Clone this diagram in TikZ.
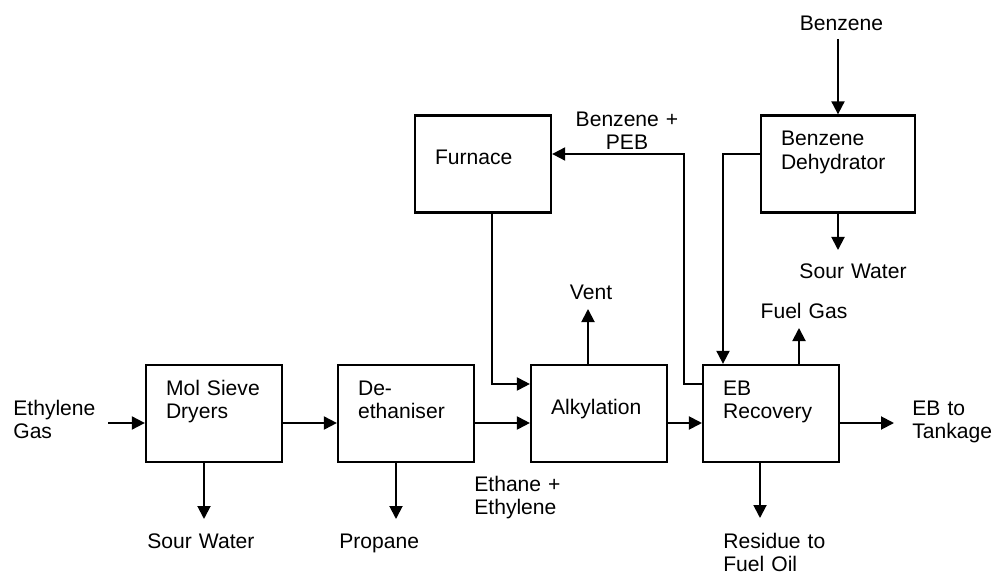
\documentclass[tikz,border=0pt]{standalone}
\usepackage{fontspec}
\setmainfont{Liberation Sans}
\usetikzlibrary{arrows.meta, positioning}

\begin{document}
\begin{tikzpicture}[
    x=0.2mm, y=-0.2mm,
    >={Triangle[length=2.6mm,width=2.6mm]},
    font=\fontsize{12}{13.3}\selectfont,
    proc/.style    = {rectangle, draw=black, line width=1.3pt,
                      minimum width=27.2mm, minimum height=19.4mm,
                      text width=19.2mm, inner xsep=4mm, align=left,
                      text height=2mm, text depth=9.2mm},
    oneline/.style = {text depth=1.6mm},
    stream/.style  = {inner sep=0pt, text width=22mm, align=left,
                      anchor=base west},
    centred/.style = {align=center, anchor=base},
    pipe/.style    = {->, line width=1.1pt},
]
\useasboundingbox (0,0) rectangle (997,574);

\node[proc] (dry) at (214,413.5) {Mol Sieve\\Dryers};
\node[proc, right=10.75mm of dry] (deeth) {De-\\ethaniser};
\node[proc, oneline, right=10.95mm of deeth] (alky) {Alkylation};
\node[proc, right=6.75mm of alky] (ebrec) {EB\\Recovery};

\node[proc, oneline] (furn) at (483,164) {Furnace};
\node[proc, minimum width=30.8mm, text width=22.8mm] (dehyd) at (838,164)
    {Benzene\\Dehydrator};

\coordinate (mainline) at (0,423);
\coordinate (ethin)    at (108,423);
\coordinate (tank)     at (894,423);
\coordinate (sw1)      at (204,519);
\coordinate (prop)     at (396,519);
\coordinate (resid)    at (760,518);
\coordinate (furnx)    at (492,384);
\coordinate (vent)     at (588,309);
\coordinate (fuelgas)  at (799,328);
\coordinate (pebx)     at (684,154);
\coordinate (dehx)     at (723,154);
\coordinate (bzin)     at (838,39);
\coordinate (sw2)      at (838,250);

\node[stream] (ethlbl)    at (13,415.5)  {Ethylene\\Gas};
\node[stream] (sw1lbl)    at (147,548.5) {Sour Water};
\node[stream] (proplbl)   at (339,548.5) {Propane};
\node[stream] (ethanelbl) at (474,491.5) {Ethane +\\Ethylene};
\node[stream] (residlbl)  at (723,548.5) {Residue to\\Fuel Oil};
\node[stream] (tanklbl)   at (912,415.5) {EB to\\Tankage};
\node[stream, centred] (ventlbl) at (591,299.5)  {Vent};
\node[stream, centred] (fglbl)   at (804,318.5)  {Fuel Gas};
\node[stream, centred] (sw2lbl)  at (853,278.5)  {Sour Water};
\node[stream, centred] (bzlbl)   at (841.5,30.5) {Benzene};
\node[stream, centred] (peblbl)  at (627,126.5)  {Benzene +\\PEB};

\draw[pipe] (ethin) -- (dry.west |- mainline);
\draw[pipe] (dry.east |- mainline)   -- (deeth.west |- mainline);
\draw[pipe] (deeth.east |- mainline) -- (alky.west |- mainline);
\draw[pipe] (alky.east |- mainline)  -- (ebrec.west |- mainline);
\draw[pipe] (ebrec.east |- mainline) -- (tank);

\draw[pipe] (dry.south -| sw1)    -- (sw1);
\draw[pipe] (deeth.south -| prop) -- (prop);
\draw[pipe] (ebrec.south -| resid) -- (resid);

\draw[pipe] (furn.south -| furnx) |- (alky.west |- furnx);
\draw[pipe] (alky.north -| vent) -- (vent);
\draw[pipe] (ebrec.north -| fuelgas) -- (fuelgas);
\draw[pipe] (ebrec.west |- furnx) -| (pebx) -- (furn.east |- pebx);
\draw[pipe] (dehyd.west |- dehx) -| (ebrec.north -| dehx);

\draw[pipe] (bzin) -- (dehyd.north);
\draw[pipe] (dehyd.south) -- (sw2);

\end{tikzpicture}
\end{document}
